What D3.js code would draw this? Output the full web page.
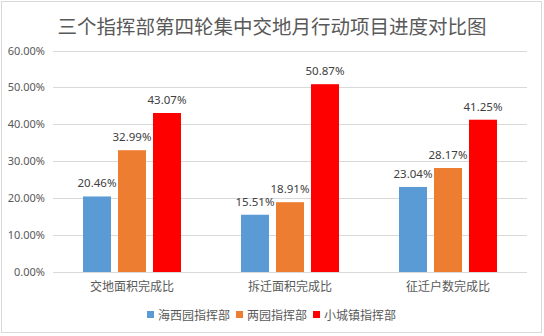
<!DOCTYPE html>
<html>
<head>
<meta charset="utf-8">
<script src="https://cdn.jsdelivr.net/npm/d3@7/dist/d3.min.js"></script>
<style>
  html, body { margin: 0; padding: 0; background: #fff; }
  svg { display: block; }
  text { font-family: "Noto Sans CJK SC", "Noto Sans", sans-serif; }
</style>
</head>
<body>
<svg id="chart" width="544" height="336"></svg>
<script>
// Progress ratios (percent) per task type and command unit
const categories = ["交地面积完成比", "拆迁面积完成比", "征迁户数完成比"];
const seriesNames = ["海西园指挥部", "两园指挥部", "小城镇指挥部"];
const haixiyuan = [20.46, 15.51, 23.04];
const liangyuan = [32.99, 18.91, 28.17];
const xiaochengzhen = [43.07, 50.87, 41.25];
const seriesValues = [haixiyuan, liangyuan, xiaochengzhen];
const yTicks = [0, 10, 20, 30, 40, 50, 60];
const titleText = "三个指挥部第四轮集中交地月行动项目进度对比图";

const colors = ["#5b9bd5", "#ed7d31", "#ff0000"];

const svg = d3.select("#chart");
const W = 544, H = 336;
const plot = { left: 53, right: 527, top: 50.5, bottom: 272 };

// chart frame
svg.append("rect")
  .attr("x", 1.5).attr("y", 1.5)
  .attr("width", 540).attr("height", 331)
  .attr("fill", "#fff").attr("stroke", "#d9d9d9").attr("stroke-width", 1);

// title
svg.append("text")
  .attr("x", 272).attr("y", 34)
  .attr("text-anchor", "middle")
  .attr("font-size", 19.5)
  .attr("fill", "#595959")
  .text(titleText);

const y = d3.scaleLinear().domain([0, 60]).range([plot.bottom, plot.top]);
const x0 = d3.scaleBand().domain(categories).range([plot.left, plot.right]);
const x1 = d3.scaleBand().domain(seriesNames)
  .range([30, x0.bandwidth() - 30]).paddingInner(0.2);

// gridlines
svg.append("g")
  .selectAll("line")
  .data(yTicks.filter(d => d > 0))
  .join("line")
  .attr("x1", plot.left).attr("x2", plot.right)
  .attr("y1", d => Math.round(y(d)) + 0.5).attr("y2", d => Math.round(y(d)) + 0.5)
  .attr("stroke", "#d9d9d9").attr("stroke-width", 1);

// y axis labels
const yAxis = d3.axisLeft(y).tickValues(yTicks)
  .tickFormat(d => d.toFixed(2) + "%").tickSize(0).tickPadding(8);
const gy = svg.append("g").attr("transform", `translate(${plot.left},0)`).call(yAxis);
gy.select(".domain").remove();
gy.selectAll("text")
  .attr("font-size", 11).attr("fill", "#595959")
  .style("font-family", "'Noto Sans', 'Noto Sans CJK SC', sans-serif");

// bars
const groups = svg.append("g")
  .selectAll("g")
  .data(categories)
  .join("g")
  .attr("transform", d => `translate(${x0(d)},0)`);

groups.selectAll("rect")
  .data((c, ci) => seriesNames.map((s, si) => ({ s, si, v: seriesValues[si][ci] })))
  .join("rect")
  .attr("x", d => x1(d.s))
  .attr("width", x1.bandwidth())
  .attr("y", d => y(d.v))
  .attr("height", d => y(0) - y(d.v))
  .attr("fill", d => colors[d.si]);

// value labels
groups.selectAll("text.val")
  .data((c, ci) => seriesNames.map((s, si) => ({ s, si, v: seriesValues[si][ci] })))
  .join("text")
  .attr("class", "val")
  .attr("x", d => x1(d.s) + x1.bandwidth() / 2)
  .attr("y", d => y(d.v) - 9)
  .attr("text-anchor", "middle")
  .attr("font-size", 11.5)
  .attr("fill", "#404040")
  .style("font-family", "'Noto Sans', 'Noto Sans CJK SC', sans-serif")
  .text(d => d.v.toFixed(2) + "%");

// x axis line
svg.append("line")
  .attr("x1", plot.left).attr("x2", plot.right)
  .attr("y1", plot.bottom + 0.5).attr("y2", plot.bottom + 0.5)
  .attr("stroke", "#d9d9d9");

const xAxis = d3.axisBottom(x0).tickSize(0).tickPadding(10);
const gx = svg.append("g").attr("transform", `translate(0,${plot.bottom})`).call(xAxis);
gx.select(".domain").remove();
gx.selectAll("text").attr("font-size", 12).attr("fill", "#595959")
  .style("font-family", "'Noto Sans CJK SC', sans-serif");

// legend
const legend = svg.append("g").attr("transform", "translate(147,311)");
let lx = 0;
seriesNames.forEach((name, i) => {
  const g = legend.append("g").attr("transform", `translate(${lx},0)`);
  g.append("rect").attr("width", 7).attr("height", 7).attr("fill", colors[i]);
  const t = g.append("text")
    .attr("x", 11).attr("y", 8.5)
    .attr("font-size", 12).attr("fill", "#595959")
    .text(name);
  lx += 11 + t.node().getComputedTextLength() + 6;
});
</script>
</body>
</html>
